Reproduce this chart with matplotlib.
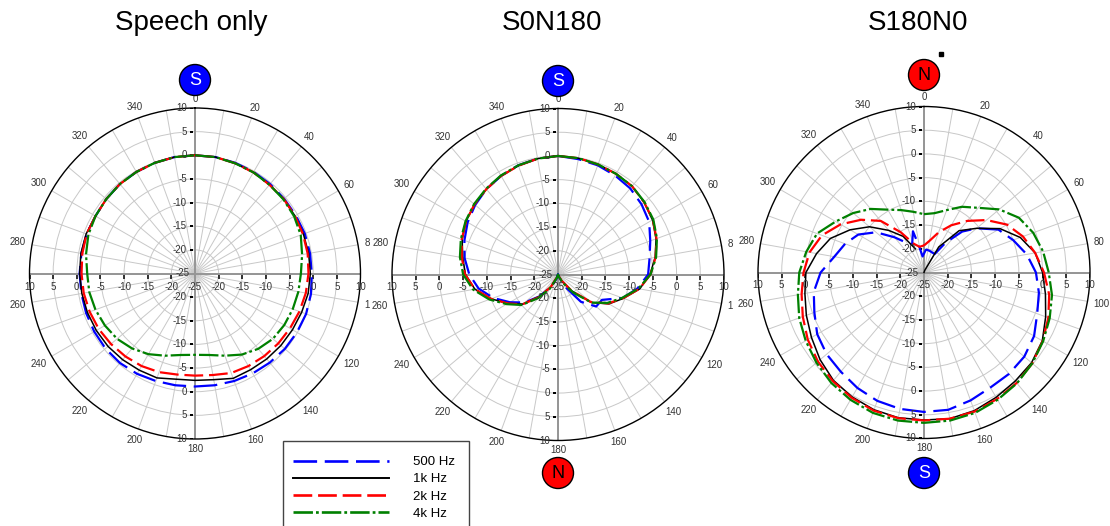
import numpy as np
import matplotlib

matplotlib.use("Agg")
import matplotlib.pyplot as plt
from matplotlib.lines import Line2D
from matplotlib.patches import Circle, Rectangle
from matplotlib.path import Path

plt.rcParams["font.family"] = ["Liberation Sans", "DejaVu Sans"]
plt.rcParams["lines.scale_dashes"] = False

nan = np.nan

# azimuth in degrees (clockwise from front), level in dB
ANGLES = list(range(0, 360, 10))

SPEECH_500 = [0, 0, -0.1, -0.2, -0.3, -0.4, -0.4, -0.3, -0.3, -0.3, -0.1, 0, -0.1, -0.2, -0.4, -0.6,
              -0.8, -1.0, -1.1, -1.0, -0.8, -0.5, -0.3, -0.3, -0.4, -0.5, -0.6, -0.6, -0.6, -0.6,
              -0.7, -0.5, -0.3, -0.2, -0.1, 0]
SPEECH_1K = [0, 0, -0.2, -0.3, -0.5, -0.5, -0.6, -0.6, -0.6, -0.6, -0.7, -1.0, -1.2, -1.3, -1.4, -1.5,
             -1.4, -2.2, -2.4, -2.3, -1.5, -1.4, -1.2, -1.0, -0.9, -0.8, -0.7, -0.6, -0.5, -0.5,
             -0.7, -0.5, -0.3, -0.2, -0.1, 0]
SPEECH_2K = [0, 0, -0.2, -0.3, -0.5, -0.5, -0.6, -0.7, -0.8, -1.0, -1.2, -1.5, -1.8, -2.0, -2.2, -2.4,
             -2.6, -3.2, -3.4, -3.3, -2.8, -2.4, -2.1, -1.8, -1.5, -1.3, -1.1, -1.0, -0.8, -0.6,
             -0.7, -0.5, -0.3, -0.2, -0.1, 0]
SPEECH_4K = [0, 0, -0.2, -0.3, -0.5, -0.6, -0.8, -1.2, -2.0, -2.6, -2.8, -3.0, -3.2, -3.5, -4.2, -5.2,
             -6.5, -7.5, -7.8, -7.5, -6.5, -5.3, -4.3, -3.5, -3.0, -2.6, -2.3, -2.2, -1.6, -1.0,
             -0.7, -0.5, -0.3, -0.2, -0.1, 0]

S0N180_500 = [0, -0.3, -0.5, -0.9, -1.3, -2.0, -2.8, -4.3, -5.4, -6.0, -8.0, -10.5, -14.3, -14.5, -17.5,
              -22, -24.5, -25, -24.5, -25, -24, -22, -19, -15.8, -13.3, -10.5, -8, -6.3, -5.0, -4.0,
              -3.0, -2.2, -1.5, -1.0, -0.5, -0.2]
S0N180_1K = [0, -0.1, -0.3, -0.5, -0.7, -1.3, -2.0, -3.0, -4.2, -5.6, -7.5, -10.3, -12.6, -15.8, -20.5,
             -23.5, -24.8, -25, -25, -25, -24.5, -22, -19, -15.3, -12.8, -10.0, -7.2, -5.5, -4.6, -3.5,
             -2.6, -2.0, -1.5, -1.0, -0.6, -0.2]
S0N180_2K = [0, -0.1, -0.3, -0.5, -0.7, -1.3, -1.9, -2.9, -4.1, -5.5, -7.6, -10.4, -12.8, -16.0, -20.5,
             -23.5, -24.8, -25, -25, -25, -24.5, -22, -18.8, -15.2, -12.8, -10.0, -7.2, -5.4, -4.4, -3.4,
             -2.6, -2.0, -1.5, -1.0, -0.6, -0.2]
S0N180_4K = [0, -0.1, -0.3, -0.5, -0.7, -1.2, -1.8, -2.8, -4.0, -5.5, -7.8, -10.6, -13.0, -15.8, -20.0,
             -23.0, -24.5, -25, -25, -25, -24.2, -21.5, -18.5, -15.0, -12.5, -9.6, -6.8, -5.0, -4.0, -3.2,
             -2.5, -1.9, -1.4, -0.9, -0.5, -0.2]

S180N0_500_ANGLES = [5, 15, 30, 36, 43, 50, 60, 70, 80, 90, 100, 110, 120, 130, 140, 150, 160, 170, 180,
                     190, 200, 210, 220, 230, 240, 250, 260, 270, 280, 290, 300, 310, 320, 330, 337,
                     345, 350, 355]
S180N0_500 = [-20.1, -20.3, -20.5, -17.2, -13.2, -10.5, -6.9, -5.0, -3.0, -1.4, -0.4, 0.4, 1.8, 2.6, 2.9,
              3.0, 3.7, 4.4, 4.4, 4.2, 3.8, 3.1, 2.3, 1.8, 1.0, -0.4, -1.4, -3.2, -5.8, -7.3, -9.0,
              -11.8, -15.3, -17.8, -18.6, -16.0, -19.7, -21.6]
S180N0_1K = [nan, -25, -24.5, -18.8, -13.5, -10.5, -6.5, -3.4, -1.2, 0, 1.0, 2.3, 3.8, 4.6, 4.9, 5.4,
             6.0, 6.3, 6.1, 6.1, 5.8, 5.3, 4.7, 3.6, 2.4, 1.4, 0.5, -0.1, -2.0, -4.0, -7.0, -10.0,
             -13.4, -16.2, -19.7, nan]
S180N0_2K = [-19.3, -18.2, -16.0, -13.5, -10.8, -7.8, -4.8, -2.8, -1.2, 0.3, 1.8, 2.9, 3.9, 4.8, 5.4,
             5.8, 6.2, 6.3, 6.2, 6.2, 6.0, 5.5, 4.9, 4.2, 3.3, 2.2, 1.2, 0.4, -0.5, -2.1, -4.7, -7.7,
             -10.8, -15.2, -18.5, -19.5]
S180N0_4K = [-12.7, -12.3, -11.0, -9.0, -7.2, -4.3, -1.9, -0.5, 0.5, 1.3, 2.4, 3.2, 4.0, 4.8, 5.5, 6.0,
             6.5, 6.7, 6.7, 6.7, 6.5, 6.0, 5.4, 4.6, 3.8, 3.0, 2.0, 1.3, 0.2, -1.0, -3.5, -5.5, -7.5,
             -9.7, -11.0, -12.0]

TITLES = ["Speech only", "S0N180", "S180N0"]
LABELS = ["500 Hz", "1k Hz", "2k Hz", "4k Hz"]

STYLES = [
    dict(color="#0000ff", lw=1.6, dashes=(17, 5.5)),
    dict(color="black", lw=1.1, ls="-"),
    dict(color="#ff0000", lw=1.6, dashes=(13.5, 4.2)),
    dict(color="#008000", lw=1.6, dashes=(14, 2.2, 2, 2.2)),
]

W, H = 1110, 526
RMIN, RMAX = -25, 10
fig = plt.figure(figsize=(W / 100, H / 100), dpi=100)

# short tick marks sitting just left of / just below the cross axes
TICK_LEFT = Path([(-1.0, 0.0), (-0.35, 0.0)], [Path.MOVETO, Path.LINETO])
TICK_BELOW = Path([(0.0, -0.25), (0.0, -1.0)], [Path.MOVETO, Path.LINETO])


def closed(angles, values):
    a = list(angles) + [angles[0] + 360]
    v = list(values) + [values[0]]
    return np.deg2rad(a), np.array(v, dtype=float)


def panel(cx, cy, R, cut=()):
    ax = fig.add_axes([(cx - R) / W, (H - cy - R) / H, 2 * R / W, 2 * R / H], projection="polar")
    ax.set_theta_zero_location("N")
    ax.set_theta_direction(-1)
    ax.set_ylim(RMIN, RMAX)
    ax.set_xticks(np.deg2rad(np.arange(0, 360, 20)))
    ax.set_xticks(np.deg2rad(np.arange(10, 360, 20)), minor=True)
    ax.set_xticklabels([])
    ax.set_yticks(np.arange(-20, 10, 5))
    ax.set_yticklabels([])
    ax.xaxis.grid(True, which="both", color="#c8c8c8", lw=0.7)
    ax.yaxis.grid(True, color="#c8c8c8", lw=0.7)
    ax.tick_params(axis="x", which="both", direction="inout", length=6, width=0.8, colors="black")
    ax.tick_params(axis="y", length=0)
    ax.spines["polar"].set_linewidth(1.0)

    # cross axes through the centre
    for t in (0, 90, 180, 270):
        ax.plot([np.deg2rad(t)] * 2, [RMIN, RMAX], color="#959595", lw=1.4, zorder=2)
    ticks = np.arange(-20, 11, 5)
    for t in (0, 180):
        ax.plot(np.full(ticks.size, np.deg2rad(t)), ticks, ls="none", marker=TICK_LEFT, ms=7,
                mew=1.1, color="black", zorder=2.5)
    for t in (90, 270):
        ax.plot(np.full(ticks.size, np.deg2rad(t)), ticks, ls="none", marker=TICK_BELOW, ms=7,
                mew=1.1, color="black", zorder=2.5)

    txt = dict(fontsize=7, color="#333333", annotation_clip=False, zorder=4)
    for t in (0, 180):
        for r in ticks:
            ax.annotate(f"{r:g}", xy=(np.deg2rad(t), r), xytext=(-8, 0), textcoords="offset pixels",
                        ha="right", va="center", **txt)
    ax.annotate("-25", xy=(0, RMIN), xytext=(-5, 0), textcoords="offset pixels",
                ha="right", va="center", **txt)
    for t in (90, 270):
        for r in ticks:
            ax.annotate(f"{r:g}", xy=(np.deg2rad(t), r), xytext=(0, -8), textcoords="offset pixels",
                        ha="center", va="top", **txt)
    ax.annotate("-25", xy=(0, RMIN), xytext=(0, -8), textcoords="offset pixels",
                ha="center", va="top", **txt)

    # angle labels outside the ring (those cut by the next panel keep only the first digit)
    for t in range(0, 360, 20):
        th = np.deg2rad(t)
        lbl = str(t)
        off = 6 + len(lbl) * 2.7 * abs(np.sin(th)) + 3.5 * abs(np.cos(th))
        dx, dy = off * np.sin(th), off * np.cos(th)
        if t in cut:
            ax.annotate(lbl[0], xy=(th, RMAX), xytext=(dx - len(lbl) * 2.7, dy),
                        textcoords="offset pixels", ha="left", va="center", **txt)
        else:
            ax.annotate(lbl, xy=(th, RMAX), xytext=(dx, dy),
                        textcoords="offset pixels", ha="center", va="center", **txt)
    return ax


axes = [
    panel(195, 273.5, 165.5, cut=(80, 100)),
    panel(558, 274.5, 166, cut=(80, 100)),
    panel(924, 272.5, 166),
]

series = [
    [(ANGLES, SPEECH_500), (ANGLES, SPEECH_1K), (ANGLES, SPEECH_2K), (ANGLES, SPEECH_4K)],
    [(ANGLES, S0N180_500), (ANGLES, S0N180_1K), (ANGLES, S0N180_2K), (ANGLES, S0N180_4K)],
    [(S180N0_500_ANGLES, S180N0_500), (ANGLES, S180N0_1K), (ANGLES, S180N0_2K), (ANGLES, S180N0_4K)],
]

for ax, group in zip(axes, series):
    for (ang, vals), style in zip(group, STYLES):
        th, r = closed(ang, vals)
        ax.plot(th, r, zorder=3, **style)

# overlay in pixel coordinates for titles, badges and the legend frame
ov = fig.add_axes([0, 0, 1, 1])
ov.set_xlim(0, W)
ov.set_ylim(H, 0)
ov.axis("off")
ov.patch.set_visible(False)

for x, title in zip([191, 552, 918], TITLES):
    ov.text(x, 30, title, ha="center", va="baseline", fontsize=20, color="black")

BADGES = [(195, 80, "S"), (558, 81, "S"), (558, 473, "N"), (924, 75, "N"), (924, 473, "S")]
for x, y, letter in BADGES:
    face = "#0000ff" if letter == "S" else "#ff0000"
    fg = "white" if letter == "S" else "black"
    ov.add_patch(Circle((x, y), 15.5, facecolor=face, edgecolor="black", lw=1.0))
    ov.text(x, y + 0.5, letter, ha="center", va="center", fontsize=13, color=fg)
ov.plot([940.5], [54], ls="none", marker="s", ms=2.2, color="black")

ov.add_patch(Rectangle((282.5, 440.5), 186, 100, facecolor="white", edgecolor="#444444",
                       lw=1.0, zorder=4))

handles = [Line2D([], [], **{**s, "lw": s["lw"] + 0.3}) for s in STYLES]
leg = fig.legend(handles, LABELS, loc="upper left", bbox_to_anchor=(293 / W, 1 - 456 / H),
                 frameon=False, fontsize=9.5, handlelength=7.3, handletextpad=1.8, borderpad=0,
                 labelspacing=0.38, borderaxespad=0)
leg.set_zorder(6)

fig.savefig("out.png", dpi=100)
